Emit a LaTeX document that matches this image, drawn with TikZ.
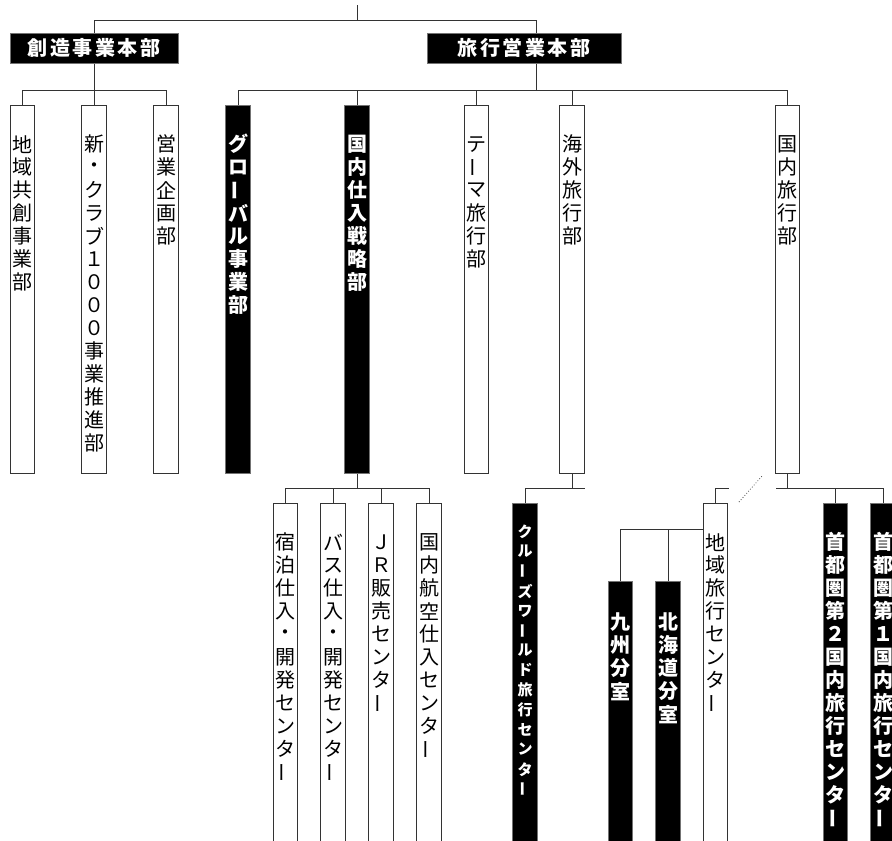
\documentclass[tikz,border=0pt]{standalone}
\usepackage{fontspec}
\usepackage{graphicx}
\newfontfamily\jp{Noto Sans CJK JP}
\newdimen\vtpitch \vtpitch=23pt
\newdimen\vtwid \vtwid=22pt
\def\vtextend{VTEND}
\def\vtextloop#1{\ifx#1\vtextend\else\vbox to\vtpitch{\vss\hbox to\vtwid{\hss#1\hss}\vss}\expandafter\vtextloop\fi}
\newcommand\vtext[2][23pt]{\vbox{\vtpitch=#1\relax\offinterlineskip\vtextloop#2\vtextend}}
\def\htextloop#1{\ifx#1\vtextend\else\hbox to22.5pt{\hss#1\hss}\expandafter\htextloop\fi}
\newcommand\htext[1]{\hbox{\htextloop#1\vtextend}}
\newcommand\vb{\rotatebox[origin=c]{90}{ー}}
\tikzset{
  conn/.style={draw=black!80, line width=1pt},
  wbox/.style={draw=black!80, line width=1pt, fill=white, minimum width=24.5pt, inner sep=0pt, anchor=north},
  bbox/.style={draw=black!55, line width=1pt, fill=black, minimum width=24.5pt, inner sep=0pt, anchor=north},
  headbox/.style={draw=black!55, line width=1pt, fill=black, text=white, minimum height=30pt, inner sep=0pt, font=\jp\bfseries\fontsize{20}{24}\selectfont},
  wtext/.style={anchor=north, inner sep=0pt, text=black, font=\jp\fontsize{20}{23}\selectfont},
  btext/.style={anchor=north, inner sep=0pt, text=white, font=\jp\bfseries\fontsize{20}{23}\selectfont},
  stext/.style={anchor=north, inner sep=0pt, text=white, font=\jp\bfseries\fontsize{15}{18}\selectfont}
}
\begin{document}
\begin{tikzpicture}[x=1pt, y=-1pt]
\useasboundingbox (0,0) rectangle (892,841);
\clip (0,0) rectangle (892,841);
\fill[white] (0,0) rectangle (892,841);

% header boxes
\node[headbox, minimum width=168pt] (sozo) at (94,48) {\htext{創造事業本部}};
\node[headbox, minimum width=194pt] (ryoko) at (524,48) {\htext{旅行営業本部}};

% level 2
\node[wbox, minimum height=368pt] (c1) at (22.7,105) {};
\node[wbox, minimum height=368pt] (c2) at (94,105) {};
\node[wbox, minimum height=368pt] (c3) at (166,105) {};
\node[bbox, minimum height=368pt] (r1) at (238,105) {};
\node[bbox, minimum height=368pt] (r2) at (357,105) {};
\node[wbox, minimum height=368pt] (r3) at (476.5,105) {};
\node[wbox, minimum height=368pt] (r4) at (572,105) {};
\node[wbox, minimum height=368pt] (r5) at (787.5,105) {};

\node[wtext] (tc1) at ([yshift=-27.5pt]c1.north) {\vtext{地域共創事業部}};
\node[wtext] (tc2) at ([yshift=-27.5pt]c2.north) {\vtext{新・クラブ１０００事業推進部}};
\node[wtext] (tc3) at ([yshift=-27.5pt]c3.north) {\vtext{営業企画部}};
\node[btext] (tr1) at ([yshift=-27.5pt]r1.north) {\vtext{グロ\vb バル事業部}};
\node[btext] (tr2) at ([yshift=-27.5pt]r2.north) {\vtext{国内仕入戦略部}};
\node[wtext] (tr3) at ([yshift=-27.5pt]r3.north) {\vtext{テ\vb マ旅行部}};
\node[wtext] (tr4) at ([yshift=-27.5pt]r4.north) {\vtext{海外旅行部}};
\node[wtext] (tr5) at ([yshift=-27.5pt]r5.north) {\vtext{国内旅行部}};

% level 3
\node[wbox, minimum height=360pt] (s1) at (285.5,503) {};
\node[wbox, minimum height=360pt] (s2) at (333,503) {};
\node[wbox, minimum height=360pt] (s3) at (381,503) {};
\node[wbox, minimum height=360pt] (s4) at (429,503) {};
\node[bbox, minimum height=360pt] (k1) at (525,503) {};
\node[wbox, minimum height=360pt] (d1) at (715.5,503) {};
\node[bbox, minimum height=360pt] (d2) at (835.5,503) {};
\node[bbox, minimum height=360pt] (d3) at (883,503) {};
\node[bbox, minimum height=300pt] (e1) at (620.5,581) {};
\node[bbox, minimum height=300pt] (e2) at (668,581) {};

\node[wtext] (ts1) at ([yshift=-27.5pt]s1.north) {\vtext{宿泊仕入・開発センタ\vb}};
\node[wtext] (ts2) at ([yshift=-27.5pt]s2.north) {\vtext{バス仕入・開発センタ\vb}};
\node[wtext] (ts3) at ([yshift=-27.5pt]s3.north) {\vtext{ＪＲ販売センタ\vb}};
\node[wtext] (ts4) at ([yshift=-27.5pt]s4.north) {\vtext{国内航空仕入センタ\vb}};
\node[stext] (tk1) at ([yshift=-18.6pt]k1.north) {\vtext[19.8pt]{クル\vb ズワ\vb ルド旅行センタ\vb}};
\node[wtext] (td1) at ([yshift=-27.5pt]d1.north) {\vtext{地域旅行センタ\vb}};
\node[btext] (td2) at ([yshift=-27.5pt]d2.north) {\vtext{首都圏第２国内旅行センタ\vb}};
\node[btext] (td3) at ([yshift=-27.5pt]d3.north) {\vtext{首都圏第１国内旅行センタ\vb}};
\node[btext] (te1) at ([yshift=-29.5pt]e1.north) {\vtext{九州分室}};
\node[btext] (te2) at ([yshift=-29.5pt]e2.north) {\vtext{北海道分室}};

% coordinates
\coordinate (top) at (357,5);
\coordinate (bus0) at (357,20);
\coordinate (bus1) at (0,90);
\coordinate (bus2) at (0,488);
\coordinate (bus3) at (0,529);
\coordinate (ryoportN) at ([xshift=12pt]ryoko.north);
\coordinate (ryoportS) at ([xshift=12pt]ryoko.south);
\coordinate (kend) at (585,488);
\coordinate (dleft) at (729,488);
\coordinate (dright) at (776,488);
\coordinate (dotA) at (739,502);
\coordinate (dotB) at (763,475);

% connectors
\draw[conn] (top) -- (bus0);
\draw[conn] (sozo.north) |- (ryoportN |- bus0) -- (ryoportN);

\draw[conn] (sozo.south) -- (sozo.south |- bus1);
\draw[conn] (c1.north) |- (c3.north |- bus1) -- (c3.north);
\draw[conn] (c2.north) -- (c2.north |- bus1);

\draw[conn] (ryoportS) -- (ryoportS |- bus1);
\draw[conn] (r1.north) |- (r5.north |- bus1) -- (r5.north);
\draw[conn] (r2.north) -- (r2.north |- bus1);
\draw[conn] (r3.north) -- (r3.north |- bus1);
\draw[conn] (r4.north) -- (r4.north |- bus1);

\draw[conn] (r2.south) -- (r2.south |- bus2);
\draw[conn] (s1.north) |- (s4.north |- bus2) -- (s4.north);
\draw[conn] (s2.north) -- (s2.north |- bus2);
\draw[conn] (s3.north) -- (s3.north |- bus2);

\draw[conn] (r4.south) -- (r4.south |- bus2);
\draw[conn] (k1.north) |- (kend);

\draw[conn] (r5.south) -- (r5.south |- bus2);
\draw[conn] (d1.north) |- (dleft);
\draw[conn] (dright) -| (d3.north);
\draw[conn] (d2.north) -- (d2.north |- bus2);
\draw[black!70, line width=0.8pt, dotted] (dotA) -- (dotB);

\draw[conn] (d1.west |- bus3) -| (e1.north);
\draw[conn] (e2.north) -- (e2.north |- bus3);
\end{tikzpicture}
\end{document}
